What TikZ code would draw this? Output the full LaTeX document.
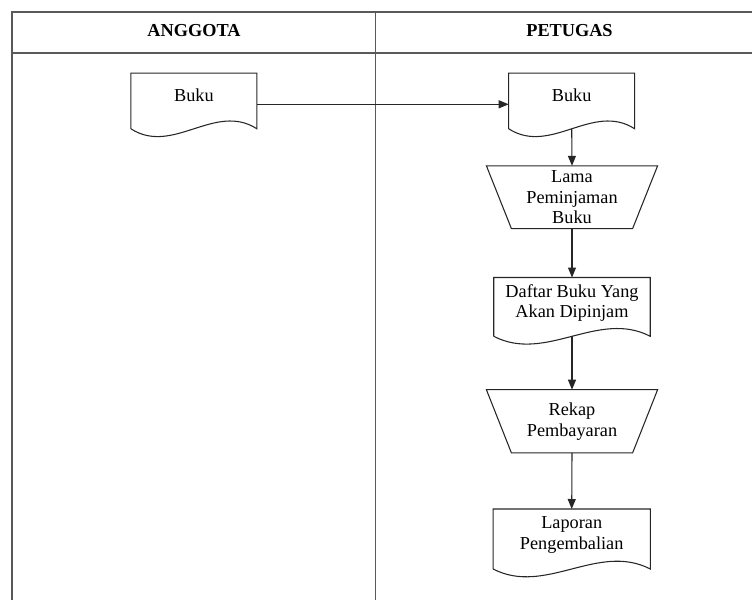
\documentclass[tikz,border=0pt]{standalone}
\usepackage{fontspec}
\setmainfont{Liberation Serif}
\usetikzlibrary{arrows.meta,calc}

\begin{document}
\begin{tikzpicture}[x=0.75pt,y=-0.75pt,
  lane/.style={draw=black!65,line width=1.3pt},
  hdr/.style={font=\fontsize{13.7}{15.5}\selectfont\bfseries,inner sep=0pt},
  box/.style={inner sep=0pt,align=center,font=\fontsize{13.7}{15.5}\selectfont},
  docbox/.style={box,text depth=9pt},
  outline/.style={draw=black!85,line width=0.8pt},
  flow/.style={draw=black!85,line width=0.8pt,-{Triangle[length=7.5pt,width=6pt]}}
]
\useasboundingbox (0,0) rectangle (752,599);
\clip (0,0) rectangle (752,599);

% swimlane frame
\draw[lane] (12.3,610) -- (12.3,11.7) -- (770,11.7);
\draw[lane] (12.3,53.3) -- (770,53.3);
\draw[lane] (375.5,11.7) -- (375.5,610);

\node[hdr] (hA) at (194,30.7) {ANGGOTA};
\node[hdr] (hP) at (569.5,30.7) {PETUGAS};

% flow elements
\node[docbox,minimum width=94.1pt,minimum height=41.3pt] (da) at (193.9,101) {Buku};
\node[docbox,minimum width=94.1pt,minimum height=41.3pt] (db) at (571.7,101) {Buku};
\node[box,minimum width=128pt,minimum height=46.7pt] (ta) at (572,197.2) {Lama\\Peminjaman\\Buku};
\node[docbox,minimum width=117pt,minimum height=43.7pt] (dc) at (572,306.9) {Daftar Buku Yang\\Akan Dipinjam};
\node[box,minimum width=128pt,minimum height=47pt] (tb) at (572,421.3) {Rekap\\Pembayaran};
\node[docbox,minimum width=117.5pt,minimum height=44.6pt] (dd) at (571.7,539) {Laporan\\Pengembalian};

% document outlines with wavy bottom
\foreach \n in {da,db,dc,dd}
  \draw[outline] (\n.south west) -- (\n.north west) -- (\n.north east) -- (\n.south east)
    .. controls ($(\n.south east)!0.333!(\n.south west)+(0,-27)$)
       and ($(\n.south east)!0.667!(\n.south west)+(0,27)$) .. (\n.south west);

% manual operation outlines
\foreach \n in {ta,tb}
  \draw[outline] (\n.north west) -- (\n.north east) -- ($(\n.south east)+(-25,0)$)
    -- ($(\n.south west)+(25,0)$) -- cycle;

% connectors
\draw[flow] ($(da.east)+(0,3.3)$) -- ($(db.west)+(0,3.3)$);
\draw[flow] (db.south) -- (ta.north);
\draw[flow] (ta.south) -- (dc.north);
\draw[flow] (dc.south) -- (tb.north);
\draw[flow] (tb.south) -- (dd.north);
\end{tikzpicture}
\end{document}
